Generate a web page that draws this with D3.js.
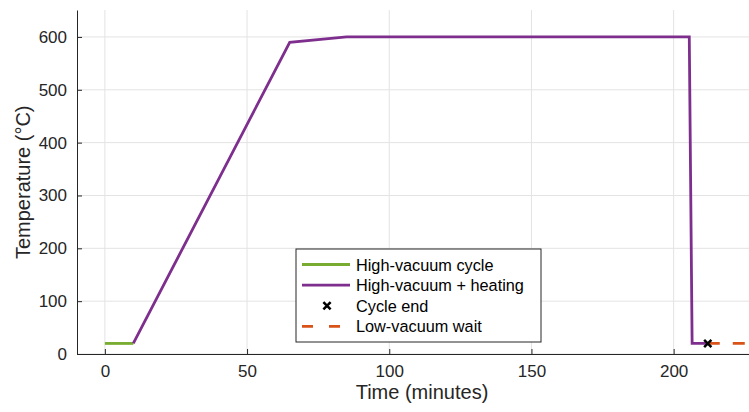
<!DOCTYPE html>
<html>
<head>
<meta charset="utf-8">
<script src="https://cdn.jsdelivr.net/npm/d3@7"></script>
<style>
  body { margin: 0; background: #fff; }
  text { font-family: "Liberation Sans", Arial, sans-serif; }
</style>
</head>
<body>
<svg id="chart" width="749" height="412"></svg>
<script>
// series (time in minutes, temperature in °C)
const cycleT = [0, 10];
const cycleY = [20, 20];
const heatT = [10, 65, 85, 205.5, 206.5, 212];
const heatY = [20, 590, 600, 600, 20, 20];
const endT = [212];
const endY = [20];
const waitT = [212, 226.5];
const waitY = [20, 20];
const xTicks = [0, 50, 100, 150, 200];
const yTicks = [0, 100, 200, 300, 400, 500, 600];

const svg = d3.select("#chart");
const m = { left: 77, right: 0, top: 10, bottom: 58 };
const W = 749, H = 412;
const FONT = "Liberation Sans, Arial, sans-serif";

const x = d3.scaleLinear().domain([-9.8, 226.5]).range([m.left, W - m.right]);
const y = d3.scaleLinear().domain([0, 651]).range([H - m.bottom, m.top]);

// grid
const g = svg.append("g");
g.selectAll("line.gx").data(xTicks).enter().append("line")
  .attr("x1", d => x(d)).attr("x2", d => x(d))
  .attr("y1", y(0)).attr("y2", m.top)
  .attr("stroke", "#e3e3e3").attr("stroke-width", 1);
g.selectAll("line.gy").data(yTicks).enter().append("line")
  .attr("x1", m.left).attr("x2", W - m.right)
  .attr("y1", d => y(d)).attr("y2", d => y(d))
  .attr("stroke", "#e3e3e3").attr("stroke-width", 1);

// axes (ticks pointing inward)
const xAxis = svg.append("g").attr("transform", `translate(0,${y(0)})`)
  .call(d3.axisBottom(x).tickValues(xTicks).tickSizeInner(-5).tickSizeOuter(0).tickPadding(11));
const yAxis = svg.append("g").attr("transform", `translate(${m.left},0)`)
  .call(d3.axisLeft(y).tickValues(yTicks).tickSizeInner(-5).tickSizeOuter(0).tickPadding(10));
[xAxis, yAxis].forEach(a => {
  a.attr("font-family", FONT).attr("font-size", 17);
  a.select(".domain").attr("stroke", "#262626");
  a.selectAll(".tick line").attr("stroke", "#262626");
  a.selectAll(".tick text").attr("fill", "#262626");
});

svg.append("text").attr("x", 422).attr("y", 399).attr("text-anchor", "middle")
  .attr("fill", "#262626").style("font-size", "20px").text("Time (minutes)");
svg.append("text").attr("transform", `translate(30,${y(325)}) rotate(-90)`)
  .attr("text-anchor", "middle").attr("fill", "#262626").style("font-size", "20px")
  .text("Temperature (°C)");

// lines
const line = d3.line().x(d => x(d[0])).y(d => y(d[1]));
const zip = (a, b) => a.map((v, i) => [v, b[i]]);

svg.append("path").datum(zip(waitT, waitY)).attr("d", line)
  .attr("fill", "none").attr("stroke", "#D95319").attr("stroke-width", 2.8)
  .attr("stroke-dasharray", "12,13");
svg.append("path").datum(zip(cycleT, cycleY)).attr("d", line)
  .attr("fill", "none").attr("stroke", "#77AC30").attr("stroke-width", 2.8);
svg.append("path").datum(zip(heatT, heatY)).attr("d", line)
  .attr("fill", "none").attr("stroke", "#7E2F8E").attr("stroke-width", 2.8)
  .attr("stroke-linejoin", "miter");

const cross = d3.symbol().type(d3.symbolX).size(36);
svg.selectAll("path.end").data(zip(endT, endY)).enter().append("path")
  .attr("transform", d => `translate(${x(d[0])},${y(d[1])})`)
  .attr("d", cross).attr("fill", "none").attr("stroke", "#000").attr("stroke-width", 2.5);

// legend
const lg = svg.append("g").attr("transform", "translate(296,249)");
lg.append("rect").attr("width", 245).attr("height", 93)
  .attr("fill", "#fff").attr("stroke", "#262626").attr("stroke-width", 1);
const items = [
  { label: "High-vacuum cycle", color: "#77AC30", kind: "line" },
  { label: "High-vacuum + heating", color: "#7E2F8E", kind: "line" },
  { label: "Cycle end", color: "#000", kind: "mark" },
  { label: "Low-vacuum wait", color: "#D95319", kind: "dash" }
];
items.forEach((it, i) => {
  const cy = 15.5 + i * 20.6;
  if (it.kind === "mark") {
    lg.append("path").attr("transform", `translate(${31},${cy})`)
      .attr("d", cross).attr("fill", "none").attr("stroke", "#000").attr("stroke-width", 2.5);
  } else {
    lg.append("line").attr("x1", 6).attr("x2", 54).attr("y1", cy).attr("y2", cy)
      .attr("stroke", it.color).attr("stroke-width", 2.8)
      .attr("stroke-dasharray", it.kind === "dash" ? "11,16" : null);
  }
  lg.append("text").attr("x", 60).attr("y", cy + 6).attr("fill", "#000")
    .style("font-size", "16.3px").text(it.label);
});
</script>
</body>
</html>
